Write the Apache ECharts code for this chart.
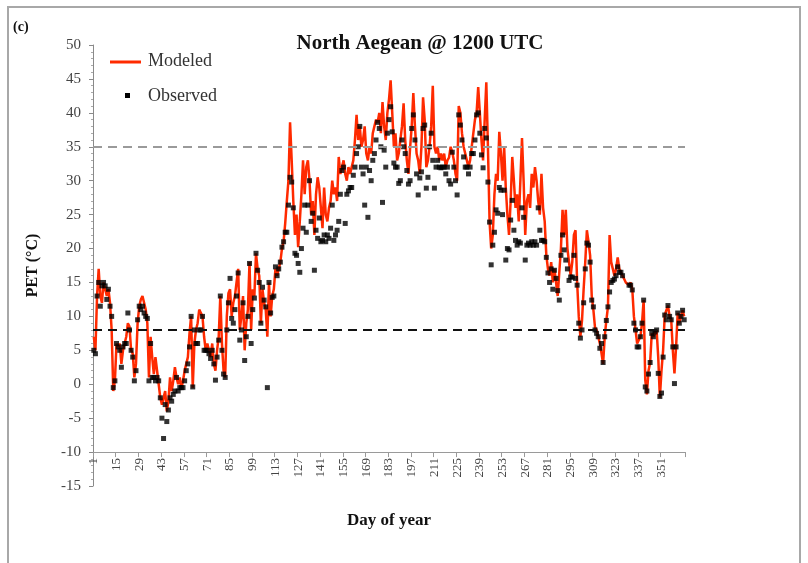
<!DOCTYPE html>
<html>
<head>
<meta charset="utf-8">
<script src="https://cdn.jsdelivr.net/npm/echarts@6/dist/echarts.min.js"></script>
<style>
  html, body { margin: 0; padding: 0; background: #fff; }
  #chart { width: 808px; height: 563px; }
</style>
</head>
<body>
<div id="chart"></div>
<script>
// Day-of-year categories (1..365)
const days = Array.from({ length: 365 }, (_, i) => String(i + 1));

// Labelled days on the horizontal axis
const tickDays = [1, 15, 29, 43, 57, 71, 85, 99, 113, 127, 141, 155, 169, 183,
  197, 211, 225, 239, 253, 267, 281, 295, 309, 323, 337, 351];

// Y axis ticks
const yTicks = { min: -15, max: 50, step: 5 };

// Thermal comfort thresholds (°C)
const upperThreshold = 35;
const lowerThreshold = 8;

// Modeled PET at 1200 UTC, one value per day
const modeled = [
  7, 5, 13, 17, 13, 12, 15, 14, 13, 14,
  12, 8, -1, 0.5, 6, 5.5, 6, 3, 5, 6,
  7, 9, 8.5, 5, 4.5, 1, 3, 9, 11.5, 12.5,
  13, 12, 11, 9, 1, 7, 4, 1.5, 4, 4,
  0, -2, -3, -3, -1, -4, -2.5, 1, -1, 0.5,
  2.5, 1, 0, 1, -0.5, 0.5, 2, 2, 4, 7.5,
  10, -0.5, 6, 8, 9, 11, 11, 10, 7, 5,
  6, 5, 4, 6, 3, 2, 5, 7, 13, 6,
  2, 1, 10, 13.4, 14, 10, 12, 13, 15, 17,
  8, 10, 13, 5, 9, 11, 18, 8, 14, 13,
  19.3, 17, 16, 9, 14, 12, 11, 7, 15, 10,
  13, 14, 17, 16, 17, 18, 20, 21, 23.7, 27,
  30, 38.6, 33, 27, 22, 25, 20.2, 24, 28, 33,
  28, 32, 33, 30, 25, 27, 22, 28, 30.5, 29,
  26, 23, 29, 25, 24, 26, 27, 30, 28, 29,
  27, 33.5, 31, 32, 33, 31, 30, 32, 31, 31,
  33, 36, 39.7, 36, 38, 35, 36, 38, 34, 33,
  35, 34, 37, 38, 39, 38.6, 40, 37, 41.6, 38,
  36, 40, 42, 44.8, 40, 35, 37, 33, 34, 36,
  38, 41.4, 36, 33, 31, 34.8, 38, 42.9, 38, 34,
  33, 31, 35, 42.3, 39, 32, 33, 35, 38, 44,
  35, 34, 35, 33, 34, 33, 34, 32, 33, 33.4,
  35, 34.2, 33, 31, 30, 41, 40, 37, 35, 34,
  33, 32, 33, 35, 37, 39, 40, 43.8, 40, 36,
  33, 39, 44.5, 35, 24, 20, 22, 28, 31, 30,
  37.2, 34, 30, 35, 29, 25, 22, 27, 33.5, 30,
  26, 28, 24, 30, 36.3, 30, 22, 27, 28, 26,
  31, 29, 32, 30, 27, 25, 31, 26, 24, 19,
  17, 16, 18, 15, 17, 15, 13, 13, 20, 25.7,
  22, 25.7, 20, 18, 16, 18, 22, 22.7, 15, 10,
  7, 9.4, 14, 18, 22.7, 21, 19, 13, 11, 8.4,
  8, 7, 6, 4.6, 3, 7, 9.4, 11.4, 22, 18,
  17, 16, 17, 18.7, 17, 16.5, 16, 15.5, 15, 15,
  14.6, 15, 14, 10, 8, 6, 6, 7, 9, 12.4,
  0.6, -1.5, 2, 3.2, 7.5, 7, 7.7, 8, 4, -2,
  2, 5, 10.2, 10, 11.6, 10, 9.5, 5, 1.6, 5.5,
  10.5, 9, 10, 10.9, 10
];

// Observed PET at 1200 UTC (null = no observation)
const observed = [
  5, 4.5, 13, 15, 11.5, 14.5, 15, 14.5, 12.5, 14,
  11.5, 10, -0.5, 0.5, 6, 5.5, 5, 2.5, 5.5, 6,
  6, 10.5, 8, 5, 4, 0.5, 2, 9.5, 11.5, 11,
  11.5, 10.5, 10, 9.7, 0.5, 6, 1, 1, 0.5, 1,
  0.5, -2, -5, -8, -3, -5.5, -3.8, -2, -2.5, -1.5,
  -1, 1, -1, -0.5, -0.5, -0.5, 0.5, 2, 3, 5.5,
  10, -0.4, 8, 6, 6, 8, 8, 10, 5, 5,
  5, 4.5, 3.8, 5, 3, 0.6, 4, 6.5, 13, 5,
  1.5, 1, 8, 12, 15.6, 9.7, 9, 11, 13, 16.4,
  6.5, 8, 12, 3.5, 7, 10, 17.8, 6, 11, 12.7,
  19.3, 16.8, 15, 9, 14.3, 12.4, 11.4, -0.5, 15, 10.5,
  12.8, 13, 17.3, 16, 17, 18, 20.2, 21, 22.4, 22.4,
  26.4, 30.5, 29.8, 26, 19.3, 19, 17.8, 16.5, 20, 23,
  26.4, 22.4, 26.4, 30, 24, 25.2, 16.8, 22.7, 21.5, 24.5,
  21, 21.2, 22, 21, 22, 21.5, 23, 26.4, 21.2, 22,
  22.7, 24, 28, 31.5, 32, 23.7, 28, 28.5, 29, 29,
  30.8, 32, 34, 35, 38, 32, 31, 26.4, 32, 24.6,
  31.5, 30, 33, 34, 36, 38.6, 37.7, 35, 26.8, 34.5,
  32, 37, 39, 40.9, 37.2, 32.6, 32, 32, 29.6, 30,
  36, 35, 34, 31.5, 29.5, 30, 37.7, 39.7, 36, 31,
  27.9, 30.4, 31.3, 37.7, 38.2, 28.9, 30.5, 35, 37, 33,
  28.9, 32, 33, 32, 31.9, 32, 32, 31, 32, 30,
  29.5, 34.2, 32, 30, 27.9, 39.7, 38.2, 36, 33.5, 32,
  32, 31, 32, 34, 34, 36, 39.7, 40, 37, 33.8,
  31.9, 37.7, 36.3, 29.8, 23.9, 17.6, 20.5, 22.4, 25.7, 25.2,
  29, 28.6, 25, 28.6, 18.3, 20, 19.8, 24.2, 27.1, 22.7,
  21.2, 20.5, 21, 20.8, 26, 24.6, 18.3, 20.5, 20.8, 20.5,
  21, 20.5, 21, 20.5, 26, 22.7, 21.2, 21.2, 21, 18.7,
  16.4, 15, 17, 14, 16.8, 15.6, 13.8, 12.4, 19, 22,
  19.8, 18.3, 17, 15.3, 15.8, 15.8, 19, 15.6, 14.6, 9,
  6.8, 8, 12, 17, 20.8, 20.5, 18, 12.4, 11.4, 8,
  7.5, 7, 5.3, 6, 3.2, 7, 9.4, 11.4, 13.6, 15,
  15.3, 15.5, 16, 17.3, 16.5, 16.5, 16, null, null, null,
  14.6, 14.6, 13.9, 9, 8, 5.5, 5.5, 7, 9, 12.4,
  -0.4, -1, 1.5, 3.2, 7.5, 7, 7.7, 8, 1.6, -1.8,
  -1.3, 4, 10.2, 9.5, 11.6, 10, 9.5, 5.5, 0.1, 5.5,
  10.5, 9, 10, 10.9, 9.5
];

if (modeled.length !== days.length || observed.length !== days.length) {
  throw new Error('series length ' + modeled.length + ' / ' + observed.length);
}

const serif = 'Liberation Serif';
const isTickDay = (index) => tickDays.indexOf(index + 1) !== -1;

const chart = echarts.init(document.getElementById('chart'), null, { renderer: 'canvas' });

chart.setOption({
  animation: false,
  backgroundColor: '#fff',
  title: {
    text: 'North Aegean @ 1200 UTC',
    left: 415,
    top: 28,
    textAlign: 'center',
    textStyle: { fontFamily: serif, fontSize: 21, fontWeight: 'bold', color: '#111' }
  },
  grid: {
    left: 93, right: 123, top: 45, bottom: 77,
    containLabel: false,
    outerBoundsMode: 'none'
  },
  xAxis: {
    type: 'category',
    data: days,
    boundaryGap: true,
    axisLine: {
      show: true,
      onZero: true,
      onZeroAxisIndex: 1,
      lineStyle: { color: '#9a9a9a', width: 1 }
    },
    axisTick: {
      show: true,
      interval: isTickDay,
      length: 5,
      lineStyle: { color: '#9a9a9a' }
    },
    axisLabel: {
      interval: isTickDay,
      rotate: 90,
      margin: -28,
      fontFamily: serif,
      fontSize: 13,
      color: '#444'
    },
    splitLine: { show: false },
    name: 'Day of year',
    nameLocation: 'middle',
    nameGap: 26,
    nameMoveOverlap: false,
    nameTextStyle: { fontFamily: serif, fontSize: 17, fontWeight: 'bold', color: '#111' }
  },
  yAxis: [
    {
      type: 'value',
      min: yTicks.min,
      max: yTicks.max,
      interval: yTicks.step,
      axisLine: { show: true, lineStyle: { color: '#8a8a8a', width: 1 } },
      axisTick: { show: true, inside: false, length: 4, lineStyle: { color: '#8a8a8a' } },
      minorTick: { show: true, splitNumber: 5, length: 2, lineStyle: { color: '#aaa' } },
      splitLine: { show: false },
      axisLabel: { fontFamily: serif, fontSize: 15, color: '#444', margin: 12 },
      name: 'PET (°C)',
      nameLocation: 'middle',
      nameGap: 52,
      nameMoveOverlap: false,
      nameTextStyle: { fontFamily: serif, fontSize: 16, fontWeight: 'bold', color: '#111' }
    },
    {
      // companion scale whose zero sits at -10 on the PET scale; the day axis crosses here
      type: 'value',
      min: yTicks.min + 10,
      max: yTicks.max + 10,
      show: false
    }
  ],
  series: [
    {
      name: 'Modeled',
      type: 'line',
      data: modeled,
      yAxisIndex: 0,
      symbol: 'none',
      lineStyle: { color: '#ff2a00', width: 2.5 },
      z: 3,
      markLine: {
        silent: true,
        symbol: 'none',
        label: { show: false },
        data: [
          { yAxis: upperThreshold, lineStyle: { color: '#9a9a9a', width: 2, type: [9, 6] } },
          { yAxis: lowerThreshold, lineStyle: { color: '#111', width: 2, type: [9, 6] } }
        ]
      }
    },
    {
      name: 'Observed',
      type: 'scatter',
      data: observed,
      yAxisIndex: 0,
      symbol: 'rect',
      symbolSize: 5,
      itemStyle: { color: '#000' },
      z: 4
    }
  ],
  graphic: [
    {
      type: 'rect',
      shape: { x: 8, y: 7, width: 792, height: 620 },
      style: { fill: 'none', stroke: '#a8a8a8', lineWidth: 2 },
      silent: true
    },
    {
      type: 'text',
      left: 13,
      top: 20,
      style: { text: '(c)', font: 'bold 14px "Liberation Serif"', fill: '#111' }
    },
    {
      type: 'line',
      shape: { x1: 110, y1: 62, x2: 141, y2: 62 },
      style: { stroke: '#ff2a00', lineWidth: 3 }
    },
    {
      type: 'text',
      left: 148,
      top: 52,
      style: { text: 'Modeled', font: '18px "Liberation Serif"', fill: '#333' }
    },
    {
      type: 'rect',
      shape: { x: 125, y: 93, width: 5, height: 5 },
      style: { fill: '#000' }
    },
    {
      type: 'text',
      left: 148,
      top: 87,
      style: { text: 'Observed', font: '18px "Liberation Serif"', fill: '#333' }
    }
  ]
});
</script>
</body>
</html>
